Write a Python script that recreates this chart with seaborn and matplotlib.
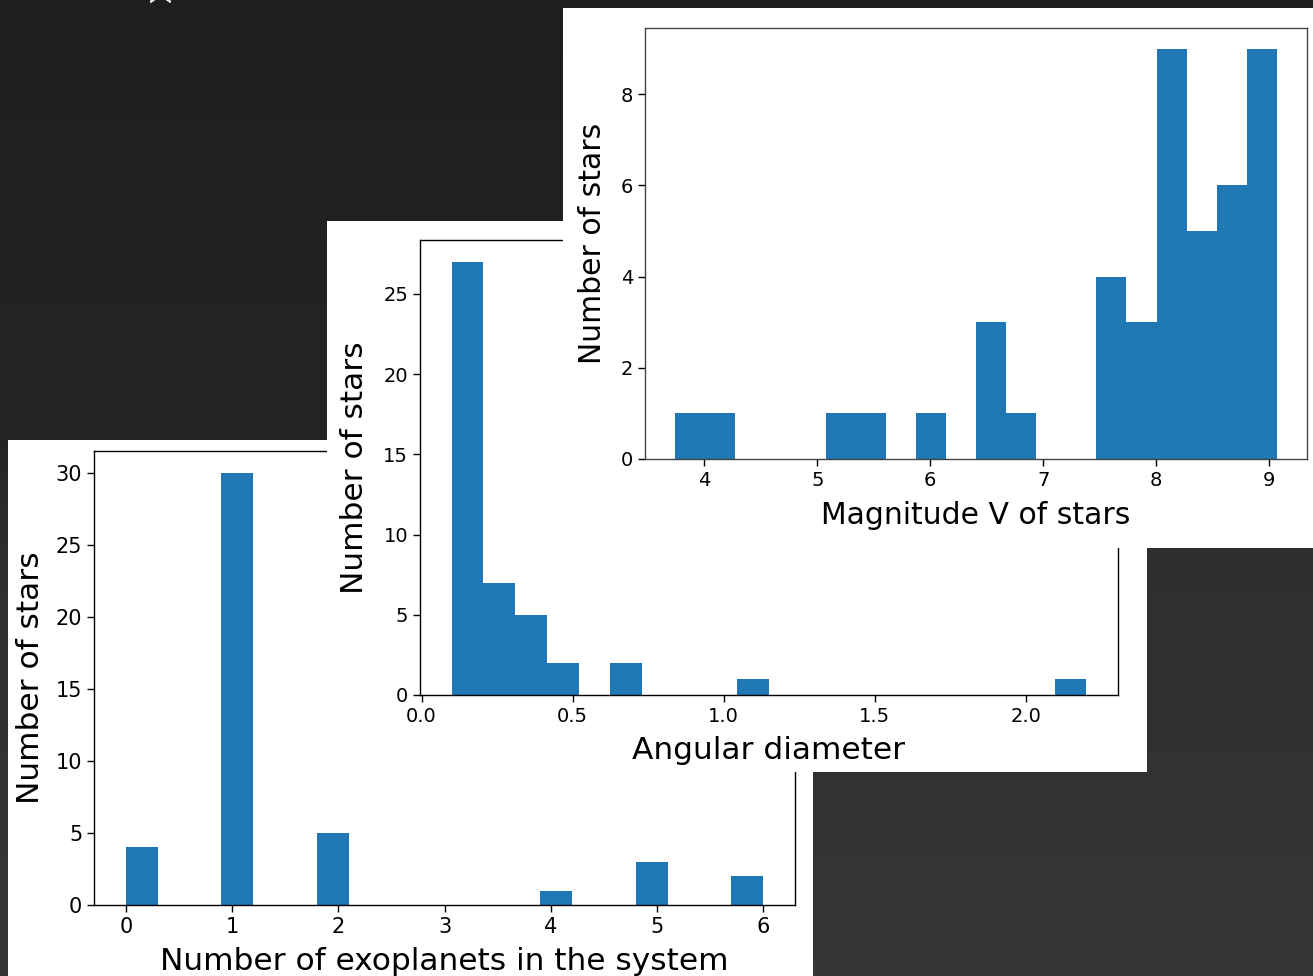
import matplotlib.pyplot as plt
from matplotlib.patches import Rectangle
import numpy as np
import seaborn as sns

# histogram counts (20 bins each)
planets_range = (0, 6)
planets_counts = [4, 0, 0, 30, 0, 0, 5, 0, 0, 0, 0, 0, 0, 1, 0, 0, 3, 0, 0, 2]

diam_range = (0.10, 2.20)
diam_counts = [27, 7, 5, 2, 0, 2, 0, 0, 0, 1, 0, 0, 0, 0, 0, 0, 0, 0, 0, 1]

mag_range = (3.74, 9.07)
mag_counts = [1, 1, 0, 0, 0, 1, 1, 0, 1, 0, 3, 1, 0, 0, 4, 3, 9, 5, 6, 9]

W, H = 1313, 976
BAR = '#1f77b4'


def fig_rect(x0, y0, x1, y1):
    # pixel box (top-left origin) -> figure fraction [left, bottom, w, h]
    return [x0 / W, 1 - y1 / H, (x1 - x0) / W, (y1 - y0) / H]


fig = plt.figure(figsize=(W / 100, H / 100), dpi=100)

# dark background behind the screenshots
bg = fig.add_axes([0, 0, 1, 1], zorder=0)
grad = np.interp(np.linspace(0, 1, 300), [0, 0.45, 0.56, 1], [30, 37, 46, 54]) / 255
bg.imshow(grad[:, None], cmap='gray', vmin=0, vmax=1, aspect='auto',
          extent=[0, 1, 0, 1], origin='upper')
# little star icon peeking in at the top edge
bg.plot([160 / W], [1 + 11 / H], marker='*', markersize=24, markerfacecolor='none',
        markeredgecolor='white', markeredgewidth=1, clip_on=False)
bg.set_xlim(0, 1)
bg.set_ylim(0, 1)
bg.set_axis_off()


def panel(white, box, z, rng, counts, xlabel, tick_fs, label_fs, xpad, ypad):
    x0, y0, x1, y1 = fig_rect(*white)
    fig.add_artist(Rectangle((x0, y0), x1, y1, transform=fig.transFigure,
                             facecolor='white', edgecolor='none', zorder=z))
    ax = fig.add_axes(fig_rect(*box), zorder=z + 0.5)
    edges = np.linspace(rng[0], rng[1], len(counts) + 1)
    centers = (edges[:-1] + edges[1:]) / 2
    sns.histplot(x=centers, weights=np.asarray(counts, float), bins=len(counts),
                 binrange=rng, ax=ax, color=BAR, alpha=1, linewidth=0)
    ax.set_xlabel(xlabel, fontsize=label_fs, labelpad=xpad)
    ax.set_ylabel('Number of stars', fontsize=label_fs, labelpad=ypad)
    ax.tick_params(labelsize=tick_fs, length=5, width=1)
    for s in ax.spines.values():
        s.set_linewidth(1)
    return ax


axA = panel((8, 440, 813, 976), (94, 451, 795, 905), 1, planets_range,
            planets_counts, 'Number of exoplanets in the system', 15, 22.5, 7.5, 8)
axB = panel((327, 221, 1147, 772), (420, 240, 1118, 695), 3, diam_range,
            diam_counts, 'Angular diameter', 14, 22.5, 7.5, 10.5)
axC = panel((563, 8, 1313, 548), (645, 28, 1307, 459), 5, mag_range,
            mag_counts, 'Magnitude V of stars', 14, 21.5, 8, 10)
for s in axC.spines.values():
    s.set_color('#444444')

fig.savefig('out.png', dpi=100)
